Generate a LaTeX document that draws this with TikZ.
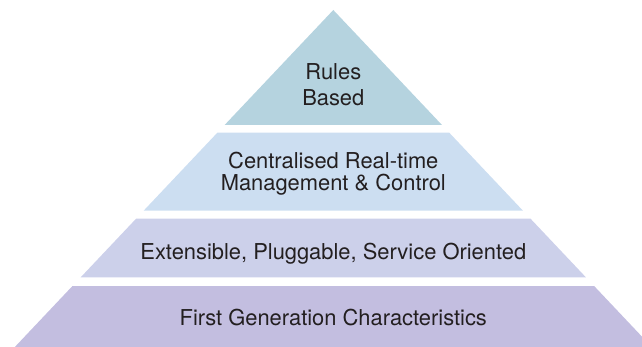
\documentclass[tikz,border=0pt]{standalone}
\usepackage{fontspec}
\setmainfont{TeX Gyre Heros}
\definecolor{bandA}{HTML}{B5D3DF}
\definecolor{bandB}{HTML}{CCDEF1}
\definecolor{bandC}{HTML}{CCD0EA}
\definecolor{bandD}{HTML}{C3BEE0}
\definecolor{txt}{HTML}{231F20}
\newcommand\pyrband[3]{\fill[#3] ({333.3-0.945*(#1-10)},#1) -- ({333.3+0.945*(#1-10)},#1) -- ({333.3+0.945*(#2-10)},#2) -- ({333.3-0.945*(#2-10)},#2) -- cycle;}
\begin{document}
\begin{tikzpicture}[x=1pt,y=-1pt,
  lbl/.style={text=txt, font=\fontsize{21.9}{22}\selectfont, inner sep=0pt, anchor=base}]
\useasboundingbox (0,0) rectangle (642,347);
\clip (0,0) rectangle (642,347);
\pyrband{10}{125}{bandA}
\pyrband{132.7}{210.7}{bandB}
\pyrband{218.7}{277.3}{bandC}
\pyrband{286}{360}{bandD}
\node[lbl] (rules) at (333.3,80) {Rules};
\node[lbl] (based) at (333.3,106) {Based};
\node[lbl] (central) at (333.3,168.3) {Centralised Real-time};
\node[lbl] (manage) at (333.3,191) {Management \& Control};
\node[lbl] (ext) at (333.3,260) {Extensible, Pluggable, Service Oriented};
\node[lbl] (first) at (333.3,325) {First Generation Characteristics};
\end{tikzpicture}
\end{document}
